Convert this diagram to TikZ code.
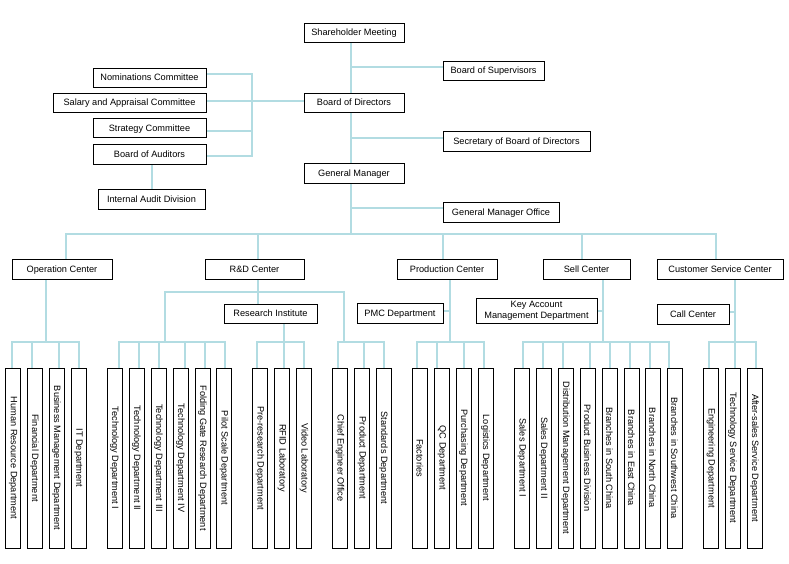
\documentclass[tikz,border=0pt]{standalone}
\usepackage{fontspec}
\setmainfont{Liberation Sans}
\usetikzlibrary{backgrounds}
\definecolor{connblue}{RGB}{178,220,226}
\begin{document}
\begin{tikzpicture}[x=1pt,y=-1pt,
  box/.style={draw=black,line width=0.8pt,fill=white,inner sep=0pt,
    font=\fontsize{9.2}{11}\selectfont,text height=8pt,text depth=1.4pt},
  deptbox/.style={draw=black,line width=0.8pt,fill=white,inner sep=0pt,
    font=\fontsize{9.2}{11}\selectfont,minimum width=15pt,minimum height=180pt},
  twoline/.style={draw=black,line width=0.8pt,fill=white,inner sep=0pt,
    font=\fontsize{9.2}{11}\selectfont,align=center},
  conn/.style={draw=connblue,line width=2pt,line cap=rect}]
\useasboundingbox (0,0) rectangle (789,564);
% top nodes
\node[box,minimum width=100pt,minimum height=19pt] (sh) at (354,32.5) {Shareholder Meeting};
\node[box,minimum width=101pt,minimum height=19pt] (sup) at (493.5,70.5) {Board of Supervisors};
\node[box,minimum width=100pt,minimum height=19pt] (bod) at (354,102.5) {Board of Directors};
\node[box,minimum width=147pt,minimum height=20pt] (sec) at (516.5,141) {Secretary of Board of Directors};
\node[box,minimum width=100pt,minimum height=20pt] (gm) at (354,173) {General Manager};
\node[box,minimum width=116pt,minimum height=20pt] (gmo) at (501,212) {General Manager Office};
\node[box,minimum width=113pt,minimum height=19pt] (nom) at (149.5,77.5) {Nominations Committee};
\node[box,minimum width=153pt,minimum height=19pt] (sal) at (129.5,102.5) {Salary and Appraisal Committee};
\node[box,minimum width=113pt,minimum height=19pt] (str) at (149.5,128) {Strategy Committee};
\node[box,minimum width=113pt,minimum height=20pt] (aud) at (149.5,154) {Board of Auditors};
\node[box,minimum width=107pt,minimum height=20pt] (iad) at (151.5,199) {Internal Audit Division};
% centers
\node[box,minimum width=100pt,minimum height=20pt] (op) at (62,269) {Operation Center};
\node[box,minimum width=99pt,minimum height=20pt] (rd) at (254.5,269) {R\&D Center};
\node[box,minimum width=100pt,minimum height=20pt] (prodc) at (447,269) {Production Center};
\node[box,minimum width=87pt,minimum height=20pt] (sellc) at (586.5,269) {Sell Center};
\node[box,minimum width=126pt,minimum height=20pt] (cust) at (720,269) {Customer Service Center};
% second level
\node[box,minimum width=93pt,minimum height=19pt] (ri) at (270.5,313.5) {Research Institute};
\node[box,minimum width=86pt,minimum height=20pt] (pmc) at (400,313) {PMC Department};
\node[twoline,minimum width=121pt,minimum height=25pt] (key) at (536.5,310.5) {Key Account\\Management Department};
\node[box,minimum width=72pt,minimum height=20pt] (call) at (693,314) {Call Center};
% departments
\foreach \n/\c/\d/\t in {
  hr/13/12/Human Resource Department, fin/34.5/32/Financial Department,
  bmd/56.5/59/Business Management Department, itd/78.5/79/IT Department,
  tA/114.5/119/Technology Department I, tB/136.5/139/Technology Department II,
  tC/158.5/159/Technology Department III, tD/180.5/185/Technology Department IV,
  fg/202.5/205/Folding Gate Research Department, ps/224/225/Pilot Scale Department,
  pre/260/257/Pre-research Department, rfid/282/284/RFID Laboratory,
  vid/304/304/Video Laboratory,
  ceo/340/338/Chief Engineer Office, prd/362/364/Product Department,
  std/383.5/384/Standards Department,
  fac/420/417/Factories, qc/442/437/QC Department,
  pur/463.5/464/Purchasing Department, lgs/485.5/484/Logistics Department,
  sA/522/523/Sales Department I, sB/543.5/543/Sales Department II,
  dis/565.5/563/Distribution Management Department, pbd/587.5/590/Product Business Division,
  bsc/609.5/610/Branches in South China, bec/631.5/630/Branches in East China,
  bnc/652.5/650/Branches in North China, bsw/674.5/669/Branches in Southwest China,
  eng/711/709/Engineering Department, tsd/732.5/735/Technology Service Department,
  asd/754.5/756/After-sales Service Department}{
  \node[deptbox] (\n) at (\c,458) {\rotatebox{-90}{\t}};
  \coordinate (\n-b) at ([xshift={(\d-\c)*1pt}]\n.north);
  \coordinate (\n-t) at ([xshift={(\d-\c)*1pt},yshift=26pt]\n.north);
}
% reference coordinates
\coordinate (mainx) at (351,0);
\coordinate (cbx) at (251.5,0);
\coordinate (busL) at (66,234);
\coordinate (busR) at (716,234);
\coordinate (opx) at ([xshift=-16pt]op.south);
\coordinate (rdx) at ([xshift=3.5pt]rd.south);
\coordinate (prodx) at ([xshift=3pt]prodc.south);
\coordinate (sellx) at ([xshift=16.5pt]sellc.south);
\coordinate (custx) at ([xshift=15pt]cust.south);
\coordinate (rdL) at (165,292);
\coordinate (rdR) at (344,292);
\begin{scope}[on background layer]
\fill[white] (0,0) rectangle (789,564);
% top spine
\draw[conn] (mainx |- sh.south) -- (mainx |- busL);
\draw[conn] ([yshift=3.5pt]sup.west) -- ([yshift=3.5pt]sup.west -| mainx);
\draw[conn] ([yshift=3pt]sec.west) -- ([yshift=3pt]sec.west -| mainx);
\draw[conn] ([yshift=4pt]gmo.west) -- ([yshift=4pt]gmo.west -| mainx);
% committees
\draw[conn] ([yshift=1.5pt]sal.east) -- ([yshift=1.5pt]bod.west);
\draw[conn] ([yshift=3.5pt]nom.east) -- ([yshift=3.5pt]nom.east -| cbx)
  -- ([yshift=-2pt]aud.east -| cbx) -- ([yshift=-2pt]aud.east);
\draw[conn] ([yshift=-3pt]str.east) -- ([yshift=-3pt]str.east -| cbx);
\draw[conn] ([xshift=2pt]aud.south) -- ([xshift=2pt]aud.south |- iad.north);
% bus to centers
\draw[conn] (busL) -- (busR);
\draw[conn] ([xshift=4pt]op.north) -- ([xshift=4pt]op.north |- busL);
\draw[conn] ([xshift=3.5pt]rd.north) -- ([xshift=3.5pt]rd.north |- busL);
\draw[conn] ([xshift=-4pt]prodc.north) -- ([xshift=-4pt]prodc.north |- busL);
\draw[conn] ([xshift=-4.5pt]sellc.north) -- ([xshift=-4.5pt]sellc.north |- busL);
\draw[conn] ([xshift=-4pt]cust.north) -- ([xshift=-4pt]cust.north |- busL);
% center verticals
\draw[conn] (opx) -- (opx |- hr-t);
\draw[conn] (rdx) -- (rdx |- ri.north);
\draw[conn] (rdL) -- (rdR);
\draw[conn] (rdL) -- (rdL |- tA-t);
\draw[conn] (rdR) -- (rdR |- ceo-t);
\draw[conn] ([xshift=13.5pt]ri.south) -- ([xshift=13.5pt]ri.south |- pre-t);
\draw[conn] (prodx) -- (prodx |- fac-t);
\draw[conn] ([yshift=2pt]pmc.east) -- ([yshift=2pt]pmc.east -| prodx);
\draw[conn] (sellx) -- (sellx |- sA-t);
\draw[conn] (key.east) -- (key.east -| sellx);
\draw[conn] (custx) -- (custx |- eng-t);
\draw[conn] ([yshift=2pt]call.east) -- ([yshift=2pt]call.east -| custx);
% sub-buses
\draw[conn] (hr-t) -- (itd-t);
\draw[conn] (tA-t) -- (ps-t);
\draw[conn] (pre-t) -- (vid-t);
\draw[conn] (ceo-t) -- (std-t);
\draw[conn] (fac-t) -- (lgs-t);
\draw[conn] (sA-t) -- (bsw-t);
\draw[conn] (eng-t) -- (asd-t);
% drops
\foreach \n in {hr,fin,bmd,itd,tA,tB,tC,tD,fg,ps,pre,rfid,vid,ceo,prd,std,
  fac,qc,pur,lgs,sA,sB,dis,pbd,bsc,bec,bnc,bsw,eng,tsd,asd}{
  \draw[conn] (\n-b) -- (\n-t);
}
\end{scope}
\end{tikzpicture}
\end{document}
